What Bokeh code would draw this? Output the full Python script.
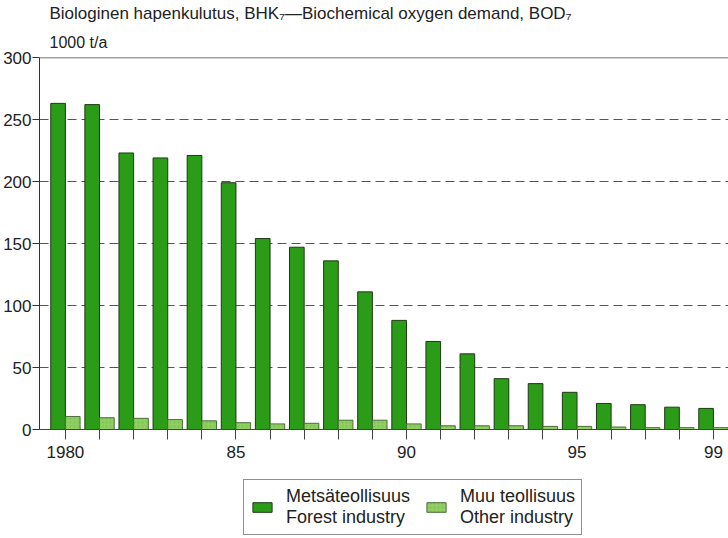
from bokeh.plotting import figure
from bokeh.embed import file_html
from bokeh.resources import INLINE
from bokeh.layouts import column
from bokeh.models import (ColumnDataSource, FixedTicker, Span, Legend, LegendItem, Title, Range1d)
from bokeh.transform import dodge

years = list(range(1980, 2000))
forest = [263, 262, 223, 219, 221, 199, 154, 147, 136, 111, 88, 71, 61, 41, 37, 30, 21, 20, 18, 17]
other = [10.5, 9.5, 9, 8, 7, 5.5, 4.5, 5, 7.5, 7.5, 4.5, 3, 3, 3, 2.5, 2.5, 2, 1.5, 1.5, 1.5]
tick_labels = {1980: "1980", 1985: "85", 1990: "90", 1995: "95", 1999: "99"}
y_ticks = [0, 50, 100, 150, 200, 250, 300]
series_labels = ["Mets\u00e4teollisuus\nForest industry", "Muu teollisuus\nOther industry"]

FONT = "Liberation Sans"
FOREST_FILL, FOREST_LINE = "#2b9c18", "#1e3a12"
OTHER_FILL, OTHER_LINE = "#8fcf62", "#4c6e3a"

src = ColumnDataSource(dict(year=years, forest=forest, other=other))

p = figure(frame_width=691, frame_height=372, output_backend="svg", toolbar_location=None,
           x_range=(1979.24, 1999.5), y_range=(0, 300),
           min_border_left=37, min_border_right=0, min_border_bottom=42, min_border_top=56)
p.outline_line_color = None
p.background_fill_color = "white"
p.border_fill_color = "white"

p.vbar(x=dodge("year", -0.215, range=p.x_range), top="forest", width=0.43, bottom=0,
       source=src, fill_color=FOREST_FILL, line_color=FOREST_LINE, line_width=1)
p.vbar(x=dodge("year", 0.215, range=p.x_range), top="other", width=0.43, bottom=0,
       source=src, fill_color=OTHER_FILL, line_color=OTHER_LINE, line_width=1,
       hatch_pattern="dot", hatch_color="#6fb447", hatch_scale=4, hatch_alpha=0.6)

# axes
p.xaxis.ticker = FixedTicker(ticks=years)
p.xaxis.major_label_overrides = {y: tick_labels.get(y, "") for y in years}
p.xaxis.major_tick_out = 10
p.xaxis.major_tick_in = 0
p.xaxis.minor_tick_line_color = None
p.xaxis.axis_line_color = "#444444"
p.xaxis.major_tick_line_color = "#444444"
p.xaxis.major_label_text_font = FONT
p.xaxis.major_label_text_font_size = "17px"
p.xaxis.major_label_text_color = "#222222"
p.xaxis.major_label_standoff = 6

p.yaxis.ticker = FixedTicker(ticks=y_ticks)
p.yaxis.major_tick_out = 7
p.yaxis.major_tick_in = 0
p.yaxis.minor_tick_line_color = None
p.yaxis.axis_line_color = "#333333"
p.yaxis.major_tick_line_color = "#333333"
p.yaxis.major_label_text_font = FONT
p.yaxis.major_label_text_font_size = "17px"
p.yaxis.major_label_text_color = "#222222"
p.yaxis.major_label_standoff = 1

p.xgrid.grid_line_color = None
p.ygrid.ticker = FixedTicker(ticks=[50, 100, 150, 200, 250])
p.ygrid.grid_line_color = "#555555"
p.ygrid.grid_line_dash = "9 5"
p.ygrid.grid_line_width = 1

p.add_layout(Span(location=300, dimension="width", line_color="#444444", line_width=1.5))

# titles
t2 = Title(text="1000 t/a", align="left", offset=10, text_font=FONT,
           text_font_size="16px", text_font_style="normal", text_color="#222222", standoff=14)
p.add_layout(t2, "above")
t1 = Title(text="Biologinen hapenkulutus, BHK\u2087\u2014Biochemical oxygen demand, BOD\u2087",
           align="left", offset=10, text_font=FONT, text_font_size="17px",
           text_font_style="normal", text_color="#222222", standoff=3)
p.add_layout(t1, "above")

# legend in a separate strip below the chart (bars fall outside this strip's ranges)
p2 = figure(width=728, height=68, output_backend="svg", toolbar_location=None,
            x_range=Range1d(0, 1), y_range=Range1d(0, 1),
            x_axis_location=None, y_axis_location=None,
            min_border_left=0, min_border_right=0, min_border_top=0, min_border_bottom=0)
p2.grid.visible = False
p2.outline_line_color = None
g1 = p2.vbar(x="year", top="forest", width=0.43, source=src,
             fill_color=FOREST_FILL, line_color=FOREST_LINE, line_width=1)
g2 = p2.vbar(x="year", top="other", width=0.43, source=src,
             fill_color=OTHER_FILL, line_color=OTHER_LINE, line_width=1,
             hatch_pattern="dot", hatch_color="#6fb447", hatch_scale=4, hatch_alpha=0.6)
legend = Legend(items=[
    LegendItem(label=series_labels[0], renderers=[g1]),
    LegendItem(label=series_labels[1], renderers=[g2]),
], orientation="horizontal", location=(204, 4),
    label_text_font=FONT, label_text_font_size="18px", label_text_color="#222222",
    label_text_line_height=1.15, label_text_align="left",
    border_line_color="#222222", border_line_width=1.5,
    glyph_width=24, glyph_height=12, spacing=14, padding=6, margin=0,
    label_standoff=12, background_fill_alpha=1)
p2.add_layout(legend, "center")

layout = column(p, p2, spacing=0)
open("out.html", "w").write(file_html(layout, INLINE))
